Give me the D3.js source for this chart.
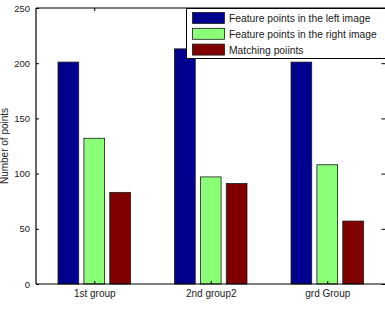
<!DOCTYPE html>
<html>
<head>
<meta charset="utf-8">
<script src="https://cdn.jsdelivr.net/npm/d3@7/dist/d3.min.js"></script>
<style>
html,body{margin:0;padding:0;background:#fff;overflow:hidden;}
svg{display:block;font-family:"Liberation Sans",Arial,sans-serif;}
</style>
</head>
<body>
<svg id="chart" width="385" height="318"></svg>
<script>
const categories = ["1st group", "2nd group2", "grd Group"];
const seriesNames = ["Feature points in the left image", "Feature points in the right image", "Matching poiints"];
const leftPoints = [201, 213, 201];
const rightPoints = [132, 97, 108];
const matchingPoints = [83, 91, 57];
const yTicks = [0, 50, 100, 150, 200, 250];
const colors = ["#00008F", "#8CFF78", "#800000"];

const series = [leftPoints, rightPoints, matchingPoints];
const svg = d3.select("#chart");
const L = 36, R = 385.5, T = 8, B = 284;

const x = d3.scaleLinear().domain([0.5, 3.5]).range([L, R]);
const y = d3.scaleLinear().domain([0, 250]).range([B, T]);

const step = 0.2222, bw = 0.1778;

// bars
series.forEach((vals, j) => {
  svg.append("g").selectAll("rect").data(vals).join("rect")
    .attr("x", (d, i) => x(i + 1 + (j - 1) * step - bw / 2))
    .attr("width", (d, i) => x(i + 1 + bw / 2) - x(i + 1 - bw / 2))
    .attr("y", d => y(d))
    .attr("height", d => y(0) - y(d))
    .attr("fill", colors[j])
    .attr("stroke", "#1a1a1a")
    .attr("stroke-width", 0.8);
});

// axes frame
const frame = svg.append("g").attr("stroke", "#000").attr("stroke-width", 1.2).attr("fill", "none");
frame.append("line").attr("x1", L).attr("x2", L).attr("y1", T).attr("y2", B);
frame.append("line").attr("x1", L).attr("x2", R + 1).attr("y1", B).attr("y2", B);
frame.append("line").attr("x1", L).attr("x2", R + 1).attr("y1", T).attr("y2", T);
frame.append("line").attr("x1", R + 1).attr("x2", R + 1).attr("y1", T).attr("y2", B);

// y ticks (inside, both sides)
const yAxisL = d3.axisLeft(y).tickValues(yTicks).tickSizeInner(-3).tickSizeOuter(0).tickPadding(6);
const gL = svg.append("g").attr("transform", `translate(${L},0)`).call(yAxisL);
gL.select(".domain").remove();
gL.selectAll("text").attr("font-size", "9.5px").attr("fill", "#222").attr("font-family", "Liberation Sans, Arial, sans-serif");
gL.selectAll("line").attr("stroke", "#000");

const yAxisR = d3.axisRight(y).tickValues(yTicks).tickSizeInner(-3.5).tickSizeOuter(0).tickFormat("");
const gR = svg.append("g").attr("transform", `translate(${R - 0.5},0)`).call(yAxisR);
gR.select(".domain").remove();
gR.selectAll("line").attr("stroke", "#000");

// x ticks (inside, bottom and top)
const xAxisB = d3.axisBottom(x).tickValues([1, 2, 3]).tickFormat((d) => categories[d - 1])
  .tickSizeInner(-3).tickSizeOuter(0).tickPadding(6);
const gB = svg.append("g").attr("transform", `translate(0,${B})`).call(xAxisB);
gB.select(".domain").remove();
gB.selectAll("text").attr("font-size", "10px").attr("fill", "#222").attr("font-family", "Liberation Sans, Arial, sans-serif");
gB.selectAll("line").attr("stroke", "#000");

const xAxisT = d3.axisTop(x).tickValues([1, 2, 3]).tickFormat("").tickSizeInner(-3).tickSizeOuter(0);
const gT = svg.append("g").attr("transform", `translate(0,${T})`).call(xAxisT);
gT.select(".domain").remove();
gT.selectAll("line").attr("stroke", "#000");

// y label
svg.append("text")
  .attr("transform", `translate(8,${(T + B) / 2}) rotate(-90)`)
  .attr("text-anchor", "middle")
  .attr("font-size", "10px")
  .attr("fill", "#222")
  .text("Number of points");

// legend
const lg = svg.append("g");
lg.append("rect").attr("x", 186.5).attr("y", 8.5).attr("width", 199).attr("height", 50)
  .attr("fill", "#fff").attr("stroke", "#000").attr("stroke-width", 1);
seriesNames.forEach((name, j) => {
  const yy = 12.5 + j * 15.8;
  lg.append("rect").attr("x", 192.5).attr("y", yy).attr("width", 32).attr("height", 11)
    .attr("fill", colors[j]).attr("stroke", "#1a1a1a").attr("stroke-width", 0.8);
  lg.append("text").attr("x", 229).attr("y", yy + 9.5)
    .attr("font-size", "10.3px").attr("fill", "#222").text(name);
});
</script>
</body>
</html>
